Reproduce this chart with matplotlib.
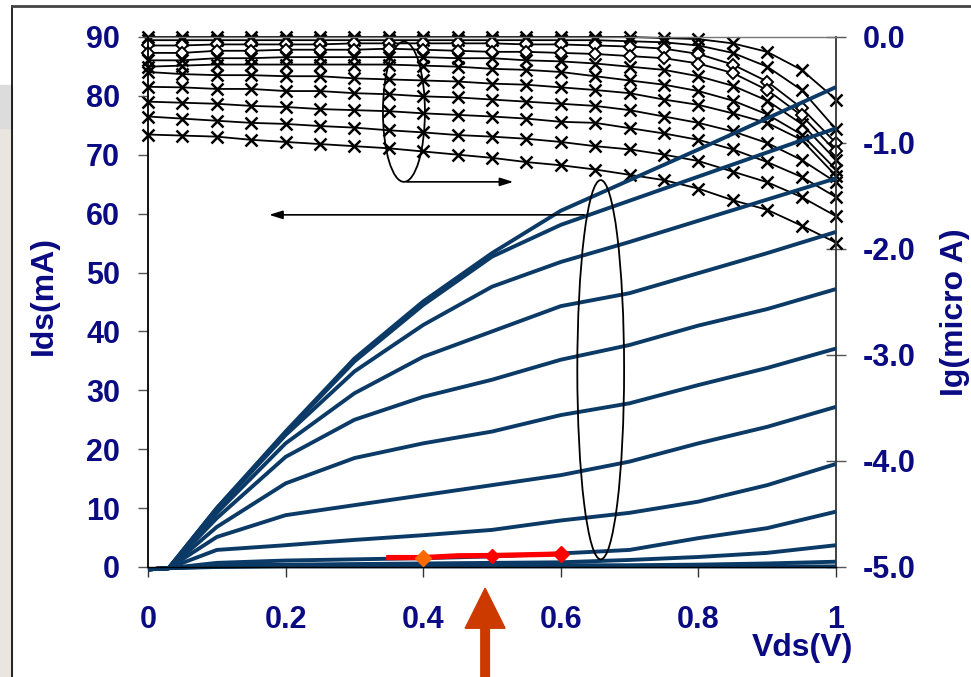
import numpy as np
import matplotlib
matplotlib.use("Agg")
import matplotlib.pyplot as plt
from matplotlib.patches import Ellipse, FancyArrow, Rectangle

plt.rcParams['font.family'] = ['Liberation Sans', 'DejaVu Sans']
plt.rcParams['font.weight'] = 'bold'
plt.rcParams['axes.unicode_minus'] = False

NAVY = '#0a0a82'
BLUE = '#0b3a66'

# drain current Ids (mA) vs Vds (V), one row per gate bias
vds = [0, 0.03, 0.1, 0.2, 0.3, 0.4, 0.5, 0.6, 0.7, 0.8, 0.9, 1.0]
ids_curves = [
    [-0.4, -0.2, 10.0, 23.0, 35.4, 45.1, 53.3, 60.5, 65.7, 70.9, 76.2, 81.5],
    [-0.4, -0.2, 10.0, 22.8, 34.9, 44.5, 52.7, 58.1, 62.2, 66.3, 70.4, 74.5],
    [-0.4, -0.2, 9.8, 22.4, 33.2, 41.1, 47.6, 51.8, 55.2, 58.8, 62.4, 66.0],
    [-0.4, -0.2, 9.2, 21.0, 29.5, 35.7, 40.0, 44.3, 46.5, 49.9, 53.3, 56.9],
    [-0.4, -0.2, 8.3, 18.7, 25.0, 28.9, 31.8, 35.2, 37.7, 41.0, 43.8, 47.2],
    [-0.4, -0.2, 6.8, 14.2, 18.5, 21.0, 23.0, 25.8, 27.8, 30.9, 33.8, 37.1],
    [-0.4, -0.2, 5.1, 8.8, 10.5, 12.2, 13.9, 15.6, 17.9, 21.0, 23.8, 27.2],
    [-0.4, -0.2, 2.9, 3.7, 4.6, 5.4, 6.3, 7.9, 9.2, 11.1, 13.9, 17.5],
    [-0.4, -0.2, 0.7, 1.1, 1.3, 1.5, 1.8, 2.3, 2.9, 4.9, 6.6, 9.4],
    [-0.4, -0.2, 0.3, 0.4, 0.5, 0.6, 0.7, 0.8, 1.2, 1.7, 2.4, 3.7],
    [-0.4, -0.2, 0.1, 0.2, 0.2, 0.2, 0.2, 0.3, 0.3, 0.4, 0.6, 0.9],
    [-0.4, -0.2, 0.0, 0.1, 0.1, 0.1, 0.1, 0.1, 0.1, 0.1, 0.1, 0.1],
]

# highlighted segment
red_vds = [0.35, 0.4, 0.45, 0.5, 0.6]
red_ids = [1.6, 1.6, 1.9, 1.95, 2.2]

# gate current Ig (micro A), markers every 0.05 V
vds_g = [round(0.05 * i, 2) for i in range(21)]
ig_curves = [
    [0, 0, 0, 0, 0, 0, 0, 0, 0, 0, 0, 0, 0, 0, 0, -0.01, -0.02, -0.06, -0.14, -0.31, -0.59],
    [-0.03, -0.03, -0.03, -0.03, -0.03, -0.03, -0.03, -0.03, -0.03, -0.03, -0.03, -0.03, -0.03,
     -0.03, -0.04, -0.05, -0.08, -0.15, -0.28, -0.50, -0.87],
    [-0.08, -0.08, -0.07, -0.07, -0.07, -0.07, -0.06, -0.06, -0.06, -0.06, -0.06, -0.07, -0.07,
     -0.08, -0.09, -0.11, -0.16, -0.26, -0.42, -0.67, -1.00],
    [-0.15, -0.15, -0.13, -0.13, -0.12, -0.12, -0.12, -0.11, -0.12, -0.13, -0.14, -0.14, -0.15,
     -0.16, -0.18, -0.20, -0.25, -0.34, -0.50, -0.74, -1.08],
    [-0.22, -0.22, -0.20, -0.20, -0.19, -0.19, -0.19, -0.19, -0.19, -0.20, -0.20, -0.22, -0.23,
     -0.25, -0.28, -0.31, -0.37, -0.46, -0.60, -0.82, -1.16],
    [-0.28, -0.27, -0.26, -0.26, -0.26, -0.26, -0.26, -0.26, -0.27, -0.28, -0.30, -0.31, -0.33,
     -0.37, -0.41, -0.45, -0.51, -0.60, -0.73, -0.92, -1.25],
    [-0.33, -0.35, -0.36, -0.36, -0.37, -0.37, -0.39, -0.40, -0.41, -0.42, -0.44, -0.45, -0.475,
     -0.50, -0.53, -0.59, -0.64, -0.72, -0.81, -0.97, -1.31],
    [-0.47, -0.475, -0.49, -0.49, -0.51, -0.51, -0.53, -0.54, -0.56, -0.57, -0.59, -0.61, -0.63,
     -0.65, -0.69, -0.75, -0.81, -0.89, -1.00, -1.16, -1.37],
    [-0.61, -0.62, -0.63, -0.65, -0.66, -0.68, -0.69, -0.70, -0.72, -0.735, -0.75, -0.77, -0.80,
     -0.81, -0.86, -0.91, -0.97, -1.06, -1.18, -1.32, -1.51],
    [-0.75, -0.77, -0.79, -0.81, -0.82, -0.84, -0.855, -0.88, -0.90, -0.925, -0.94, -0.96, -0.99,
     -1.03, -1.06, -1.11, -1.17, -1.27, -1.37, -1.51, -1.69],
    [-0.92, -0.93, -0.94, -0.97, -0.99, -1.01, -1.03, -1.05, -1.08, -1.11, -1.14, -1.18, -1.21,
     -1.25, -1.30, -1.35, -1.43, -1.54, -1.63, -1.78, -1.94],
]
ig_markers = ['x', 'x', 'D', 'D', 'x', 'x', 'x', 'x', 'x', 'x', 'x']

x_ticks = [0, 0.2, 0.4, 0.6, 0.8, 1]
x_labels = ['0', '0.2', '0.4', '0.6', '0.8', '1']
left_ticks = list(range(0, 91, 10))
right_ticks = [-5, -4, -3, -2, -1, 0]

fig = plt.figure(figsize=(9.71, 6.77), dpi=100)
W, H = 971, 677

# slide background strip + frame
fig.patches.append(Rectangle((0, 0), 12 / W, (677 - 128) / H, transform=fig.transFigure,
                             color='#ebe5e0', zorder=0))
fig.patches.append(Rectangle((0, (677 - 128) / H), 12 / W, 43 / H, transform=fig.transFigure,
                             color='#dcdcdc', zorder=0))
fig.add_artist(plt.Line2D([12 / W, 12 / W], [0, (677 - 6) / H], color='black', lw=1.2))
fig.add_artist(plt.Line2D([12 / W, 1], [(677 - 6) / H, (677 - 6) / H], color='#444444', lw=2))

ax = fig.add_axes([148 / W, 110 / H, 688 / W, 530 / H])
ax2 = ax.twinx()
ax.set_zorder(ax2.get_zorder() + 1)
ax.patch.set_visible(False)

for ig, mk in zip(ig_curves, ig_markers):
    if mk == 'D':
        ax2.plot(vds_g, ig, color='black', lw=1.3, marker='D', ms=6, mfc='white',
                 mec='black', mew=1.4, clip_on=False)
    else:
        ax2.plot(vds_g, ig, color='black', lw=1.3, marker='x', ms=8, mew=1.8, clip_on=False)

for ids in ids_curves:
    ax.plot(vds, ids, color=BLUE, lw=2.8, clip_on=False, solid_capstyle='butt',
            solid_joinstyle='round')

ax.plot(red_vds, red_ids, color='#ff0000', lw=3.8, zorder=5)
ax.plot(red_vds[1], red_ids[1], marker='D', ms=8.5, color='#ff6a00', zorder=6)
ax.plot(red_vds[3], red_ids[3], marker='D', ms=7, color='#ff0000', zorder=6)
ax.plot(red_vds[4], red_ids[4], marker='D', ms=8.5, color='#ff0000', zorder=6)

ax.set_xlim(0, 1)
ax.set_ylim(0, 90)
ax2.set_ylim(-5, 0)

ax.set_xticks(x_ticks)
ax.set_xticklabels(x_labels)
ax.set_yticks(left_ticks)
ax2.set_yticks(right_ticks)
ax2.set_yticklabels(['%.1f' % v for v in right_ticks])

ax.tick_params(axis='x', direction='out', length=7, width=1, color='#333333',
               labelsize=22, labelcolor=NAVY, pad=20)
ax.tick_params(axis='y', direction='out', length=7, width=1, color='#555555',
               labelsize=22, labelcolor=NAVY, pad=13)
ax2.tick_params(axis='y', direction='inout', length=15, width=1, color='#555555',
                labelsize=22, labelcolor=NAVY, pad=12)

for sp in ['top', 'right']:
    ax.spines[sp].set_visible(False)
ax2.spines['top'].set_color('#777777')
ax2.spines['top'].set_linewidth(1)
ax2.spines['right'].set_color('#333333')
ax2.spines['right'].set_linewidth(1.3)
ax2.spines['left'].set_visible(False)
ax2.spines['bottom'].set_visible(False)
ax.spines['left'].set_linewidth(1.3)
ax.spines['bottom'].set_linewidth(1)

fig.text(44 / W, 1 - 295 / H, 'Ids(mA)', rotation=90, ha='center', va='center',
         fontsize=23, color=NAVY, fontweight='bold')
fig.text(955 / W, 1 - 312 / H, 'Ig(micro A)', rotation=90, ha='center', va='center',
         fontsize=23, color=NAVY, fontweight='bold')
fig.text(853 / W, 1 - 648 / H, 'Vds(V)', ha='right', va='center',
         fontsize=23, color=NAVY, fontweight='bold')

# annotation ellipses and arrows
ax.add_patch(Ellipse((0.372, 77.3), 0.061, 23.8, fill=False, ec='black', lw=1.3, zorder=7))
ax.annotate('', xy=(0.535, 65.4), xytext=(0.372, 65.4),
            arrowprops=dict(arrowstyle='-|>,head_length=0.8,head_width=0.25', color='black', lw=1.2))
ax.add_patch(Ellipse((0.658, 33.5), 0.068, 64.4, fill=False, ec='black', lw=1.3, zorder=7))
ax.annotate('', xy=(0.172, 59.8), xytext=(0.638, 59.8),
            arrowprops=dict(arrowstyle='-|>,head_length=0.8,head_width=0.25', color='black', lw=1.2))

ax.add_patch(FancyArrow(0.490, -19.5, 0, 15.9, width=0.0125, head_width=0.058, head_length=6.8,
                        length_includes_head=True, color='#cc3a00', clip_on=False, zorder=8))

fig.savefig('out.png', dpi=100)
